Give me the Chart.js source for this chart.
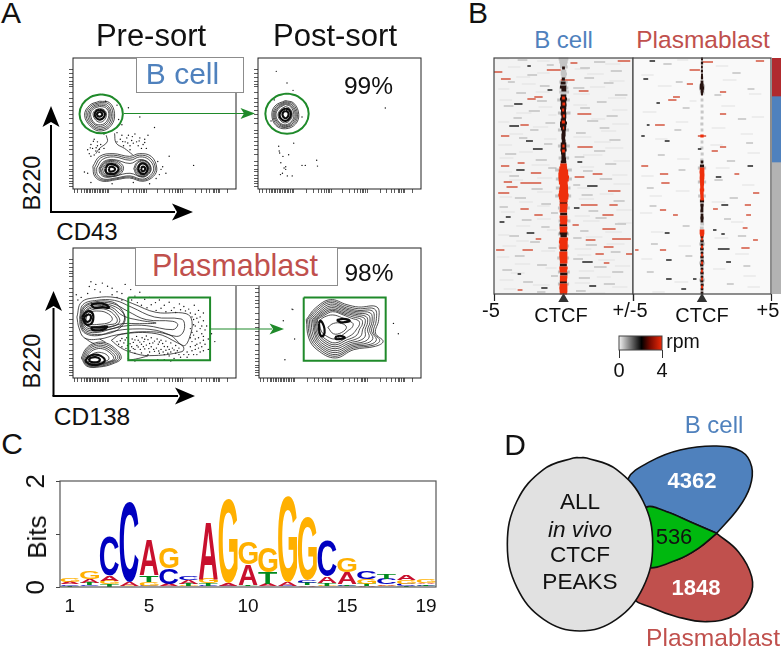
<!DOCTYPE html>
<html>
<head>
<meta charset="utf-8">
<title>CTCF sort panels</title>
<script src="https://cdn.jsdelivr.net/npm/chart.js@4"></script>
<style>
  html, body { margin: 0; padding: 0; background: #fff; }
  #page { position: relative; width: 781px; height: 649px; overflow: hidden; background: #fff; }
  #page canvas { position: absolute; }
  .lab { position: absolute; transform: translate(-50%, -50%); white-space: nowrap; line-height: 1; font-family: "Liberation Sans", Arial, sans-serif; color: #111; }
  .tag { position: absolute; background: #fff; border: 1px solid #8c8c8c; box-sizing: border-box; }
  svg { position: absolute; left: 0; top: 0; }
</style>
</head>
<body>
<div id="page"></div>
<script>
// ---------- Panel A data: flow contours, % of axis range, [x,y,x,y,...] ----------
const flowTicksX = [1,3,5,7,8,9,10,11,12,13,14,15,16,17,18,19,20,21,22,30,34,37,39,41,42,43,44,45,52,56,59,61,63,64,65,66,67,75,79,82,84,86,87,88,89,90,95];
const flowTicksY = [2,4,6,8,10,13,15,18,21,26,30,33,36,39,42,45,50,54,57,60,63,66,69,74,78,80,82,85,88,91];

const bPreRings = [
  [16.3,67, 22.4,65.9, 25.5,57.5, 23.5,48.6, 17.3,44.3, 11.2,47.3, 7.1,56.2, 10.2,63.9],
  [16.3,66, 21.8,65, 24.5,57.5, 22.8,49.3, 17.2,45.4, 11.6,48.2, 8,56.3, 10.8,63.2],
  [16.3,65, 21,64, 23.5,57.5, 22,50, 17,46.5, 12,49, 9,56.5, 11.5,62.5],
  [16.3,64, 20.5,63, 22.7,57.5, 21.2,50.8, 17,47.8, 12.6,49.8, 9.9,56.6, 12,61.8],
  [16.3,63, 20,62, 22,57.5, 20.5,51.5, 17,49, 13,50.5, 10.8,56.8, 12.5,61],
  [16.3,61.5, 19,60.5, 20.5,57.5, 19.5,53, 16.8,51, 14,52.5, 12.3,57, 13.5,60],
  [12.2,17.3, 16.3,24.9, 24.5,27, 34.7,24.9, 40.8,27, 48,24.9, 51.4,16, 49.4,9.7, 42.9,5.9, 34.7,8.4, 26.5,7.1, 18.4,5.9, 13.3,9.7],
  [13.3,16.5, 17,23.8, 24.8,25.8, 34.8,23.5, 40.9,25.8, 47.2,23.7, 50.5,16, 48.4,10, 42.7,6.7, 34.8,9.2, 26.5,7.8, 18.7,6.7, 14.1,10.3],
  [14.5,16, 18,22.5, 25,24.5, 35,22, 41,24.5, 46.5,22.5, 49.5,16, 47.5,10.5, 42.5,7.5, 35,10, 26.5,8.5, 19,7.5, 15,11],
  [16,16, 19,21, 25,22.5, 35,19.5, 41,22.5, 45.5,20.5, 48,15.5, 46,11, 42.5,9, 35,12, 26,10, 20,9, 16.5,12],
  [16.5,15.5, 19.2,20.2, 24,21.8, 29,20, 31,15.5, 28,10.6, 22,9.5, 18,11],
  [17,15.5, 19.5,19.5, 23,21, 28,19.5, 30,15, 27,11, 22,10, 18.5,11.5],
  [18,15.5, 20,19, 23,20, 27.3,18.8, 29,15, 26.5,11.5, 22.3,10.8, 19.2,12],
  [19,15.5, 20.5,18.5, 23,19, 26.5,18, 28,15, 26,12, 22.5,11.5, 20,12.5],
  [37.3,15.5, 39,20, 43,22, 46.5,20, 47.6,15, 46,11, 42.5,9.5, 39,11],
  [38,15.5, 39.5,19.5, 43,21.5, 46,19.5, 47,15, 45.5,11.5, 42.5,10, 39.5,11.5],
  [39,15.5, 40.5,19, 43,20.5, 45.5,18.8, 46.2,15, 45,12, 42.5,10.8, 40,12.2],
  [39.5,15.5, 41,18.5, 43,19.5, 45,18, 45.5,15, 44.5,12.5, 42.5,11.5, 40.5,13]
];
const bPreCores = [
  [16.3,60.5, 18.5,59.5, 19.6,57.5, 18.8,54.5, 16.6,53, 14.5,54, 13.3,57, 14.3,59.5],
  [16,59, 17.5,58.3, 18,57, 17.3,55.6, 16,55.3, 15,56, 14.8,57.5],
  [20,15.5, 21.5,18.5, 24,19, 27,17.5, 28,15, 26,12, 22.5,11.5, 20.5,12.5],
  [22,15.5, 23,17, 25,16.5, 25.8,15, 24.5,13.5, 22.5,13.5],
  [40,15.5, 41,18.5, 43,19.5, 45.2,18, 45.8,15, 44.5,12, 42.5,11.5, 40.8,13],
  [41.8,15.5, 42.6,17, 43.8,16.7, 44.3,15, 43.3,13.6, 42.2,14]
];
const bPreNecks = [
  [25.5,42.5, 26.5,35, 31.6,31, 36.7,26],
  [20.4,41, 21,36, 16.3,31, 14,27]
];
const bPreDots = [
  19,42, 13,38, 15,36, 11,34, 17,34, 12,31, 14,29, 10,27, 16,28, 9,30, 19,31, 13,26, 11,25, 15,33, 12.5,36.5, 14.2,31.5, 10.6,31.4, 16.2,30.4,
  27,43, 30,41, 33,39, 36,37, 38,42, 41,39, 44,38, 46,41, 29,38, 32,36, 35,33, 37,35, 40,33, 43,34, 45,31, 31,33, 27,36, 34,41, 39,36, 42,31, 30.5,36.2, 33.6,35.1, 36.4,40, 40.6,36.7, 44,35.5,
  52,21, 54,15, 53,11, 55,17, 51,8, 57,12, 9,12, 7,13, 11,5, 24,4, 37,5, 47,4,
  59,25, 74,18, 50,47, 41,55, 34,62, 28,53, 30,49, 35,30, 24,70, 20,67, 27,64
];
const bPreGate = [17.3,72.1, 19,71.9, 23.95,70.1, 28.8,64.7, 30.6,57.3, 28.8,49.9, 23.95,44.5, 17.3,42.5, 10.65,44.5, 5.8,49.9, 4,57.3, 5.8,64.7, 10.65,70.1, 15.6,71.9];

const bPostRings = [
  [16.8,67.5, 22,65.5, 25,57, 23,49.5, 17,46, 11,48.5, 8.5,56.5, 10.5,63.5],
  [16.8,66.7, 21.5,64.8, 24.2,57, 22.4,50.2, 17,47, 11.5,49.2, 9.2,56.5, 11.2,63],
  [16.8,66, 21,64, 23.5,57, 21.8,50.8, 17,47.5, 12,50, 9.8,56.5, 11.8,62.5],
  [16.8,65.2, 20.5,63.4, 22.8,57, 21.3,51.4, 17,48.3, 12.5,50.5, 10.4,56.5, 12.3,62],
  [16.8,64.5, 20,62.8, 22,57, 20.8,52, 17,49, 13,51, 11,56.5, 12.8,61.5],
  [16.8,63, 19.5,61.5, 21,57, 20,53, 17,50.5, 14,52, 12.3,56.5, 13.8,60.5]
];
const bPostCores = [
  [16.8,61.5, 19.2,60.3, 20.2,57, 19.3,53.8, 17,52, 14.4,53.2, 13.2,56.5, 14.4,59.8],
  [16.8,59.7, 18.3,58.8, 18.8,57, 18.2,55, 17,54, 15.6,55, 15,57, 15.5,58.6]
];
const bPostDots = [
  11.2,89.8, 17.8,80.9, 21.5,75.3, 78.1,61.8, 12.7,32.6, 21.9,35, 13.3,27.5, 15.3,24.9, 18.8,26.2,
  14,20, 16,16, 17,15, 15,12, 13.8,11, 18,10, 21,10, 17,17, 27,18, 29,18, 36,22, 36.5,17.5, 13,29, 10,68, 27,55, 24,44, 8,52
];
const bPostGate = [17.8,72.8, 19.5,72.6, 24.45,70.75, 29.3,65.15, 31.1,57.5, 29.3,49.85, 24.45,44.25, 17.8,42.2, 11.15,44.25, 6.3,49.85, 4.5,57.5, 6.3,65.15, 11.15,70.75, 16.1,72.6];

const pPreRings = [
  [2.4,46.9, 5.1,58.2, 14.3,61.8, 26.5,61.8, 36.7,57.2, 51,50.5, 69.4,49.5, 73,43.6, 71.4,30.8, 67.8,24.9, 59.2,33.1, 42.9,35.6, 26.5,33.1, 16.3,30, 7.1,30.8, 3.7,38.5],
  [4.1,46.9, 6.1,56.4, 14.3,59.7, 25.5,59.7, 35.7,54.6, 50,46.9, 66.3,45.4, 68.4,41.8, 67.3,34.6, 63.3,32, 51,36.7, 36.7,37.7, 24.5,35.9, 15.3,32.6, 7.8,34.1, 4.7,39.2],
  [4.6,47, 6.5,55, 14,58.7, 24,58.5, 29,54, 32,46, 30,40, 24,35, 15,33.5, 8,35, 5.2,40],
  [5.1,46.9, 7.1,54.6, 14.3,57.7, 24.5,57.2, 33.7,51.3, 44.9,44.9, 61.2,43.6, 64.3,41, 61.2,37.2, 44.9,40.3, 33.7,40.3, 23.5,37.7, 15.3,35.1, 8.6,35.9, 5.7,40.3],
  [5.6,46.9, 7.8,53.8, 14.8,56.6, 24,55.8, 31,49.5, 31,43, 27,39, 15.2,36.4, 8.9,37, 6,41],
  [6.1,46.9, 8.6,53, 15.3,55.6, 23.5,54.6, 30.6,47.9, 40.8,44.4, 51,42.3, 40.8,41.8, 30.6,41.8, 23.5,39.7, 15.3,37.7, 9.2,38.2, 6.5,41.8],
  [6.8,47, 8.5,52, 15,54.5, 22.5,53.5, 27.5,48, 28.5,43, 24,39.5, 15.5,38.5, 9.5,39.5, 7,43],
  [7.1,46.9, 9.2,51, 15.3,53.3, 22,51.8, 26.9,45.9, 26.5,42.3, 22,41, 15.3,39.7, 9.8,39.7, 7.6,42.8],
  [8.2,46.9, 10.2,50.5, 15.9,51.5, 20.8,50, 24.1,45.9, 22.4,42.8, 15.9,41.3, 10.2,41.3, 8.2,43.3],
  [5.1,15.4, 7.8,22.3, 12.2,26.4, 18.8,27.4, 25.5,23.1, 29.6,15.4, 24.5,11, 16.3,8.5, 8.6,9],
  [5.8,15.2, 8.4,21.7, 12.6,25.5, 18.7,26.3, 24.8,22.3, 28.6,15.4, 23.8,11.5, 16.2,9.1, 8.8,9.6],
  [6.5,15, 9,21, 13,24.5, 18.5,25, 24,21.5, 27.5,15.5, 23,12, 16,9.8, 9,10.2],
  [7.2,14.8, 9.5,20, 13.2,23.2, 18.2,23.8, 23.2,20.5, 26.2,15.2, 22.2,12.2, 15.8,10.4, 9.5,10.8],
  [8,14.5, 10,19, 13.5,22, 18,22.5, 22.5,19.5, 25,15, 21.5,12.5, 15.5,11, 10,11.5],
  [9.5,14.3, 11,17.5, 14,19.5, 17.5,19.5, 21,17.5, 22,14.5, 19.5,12.8, 15,12, 11,12.5],
  [23.5,29, 29.6,33.6, 51,34.1, 64.3,26.9, 67.8,23.8, 66.9,20.3, 46.9,17.2, 35.7,19.7, 28.6,23.8]
];
const pPreCores = [
  [5.7,46.9, 7.8,50.5, 11,51, 12.5,47, 11,41.5, 7.8,41.5],
  [6.7,46.5, 8.6,48.5, 10.5,48.5, 11,46, 9.8,43.5, 8,43.5],
  [11,56.5, 15,57.5, 20,56.5, 22,54, 18,54.5, 13,54],
  [11,39, 16,39, 21,39.5, 18,37, 12,37],
  [7.5,13, 9.5,16.5, 13,18, 17,17, 19.5,13.5, 16,10.5, 10.5,10.5],
  [9.5,13.5, 11,15.5, 14,16, 16.5,14.5, 15.5,12.5, 11.5,12.2]
];
const pPreNecks = [
  [7.1,30.8, 11,27.5, 13,26.5],
  [16.3,30, 18.5,28.5, 20,27.5],
  [33.9,13.6, 40,15, 46,17]
];
const pPreDots = [
  11,74, 14,72, 10,70.4, 13.4,68, 16.7,66.2, 9,65, 18,73, 21.2,70.6, 24,69, 27,66.3, 30,65, 32,72, 35.4,68, 38,63, 41,66, 44,60.6, 47,62, 50.6,58, 53,60, 56,56, 59,58.3, 62,54, 65.3,57, 68,55, 71,53, 74.4,56, 77,52,
  36,60, 39.5,58, 42,56, 45.4,54, 48,56.3, 51,52, 54,53.7, 57,51, 60.4,52, 63,50.4, 66,52.5, 69,51.6, 72,50, 75,49, 78,47, 80,50, 74,45, 77,43, 79,40, 75,40, 72,38, 76,36, 79,34, 74,33, 77,31, 80,29, 73,28, 76,26, 79,24, 75,22, 72,24, 78,20, 74,18, 70,20, 70,16, 66,16, 62,15,
  73,47, 76,46, 80,44, 81,37, 74,41, 78,38, 73,35, 80,32, 75,30, 78,27, 72,31, 75,25, 73,21, 77,23, 81,26, 80,21, 71,18, 68,18, 65,18, 76,18,
  27,28, 30,30.4, 33,31, 36.3,30, 39,32, 42.4,31, 45,32.3, 48,31, 51.6,30, 54,29, 57,28.4, 60,27, 63,25, 65,23,
  28,26, 31.2,27, 34,28, 37,27.4, 40,29, 43.5,28, 46,29.5, 49,27, 52.3,26, 55,26.5, 58,24, 61,23, 64,21,
  30,24, 33.4,25, 36,24, 39.2,25, 42,26, 45,25.3, 48,24, 51.2,23, 54,22, 57,21.4, 60,20, 63,19,
  35,21, 38,22, 41.3,22, 44,22.4, 47,20, 50,20.5, 53,19, 56,18, 59,17, 38,19, 42,19.3, 46,18,
  29,28.6, 32,29.2, 35,26.3, 38,29.3, 41,27.6, 44,29.8, 47,26.5, 50,28.4, 53,27.7, 56,24.2, 59,22, 62,21.6, 32.5,22.8, 37,22.6, 40,23.9, 43.2,24.1, 46.5,22.6, 49.5,22, 52.6,20.8, 55.3,20, 58.2,19,
  2,64, 5,62, 3,60, 24,64, 27,62, 30,60, 34,15, 38,13, 52,14, 56,14, 60,13, 82,40, 83,30, 83,22, 85,34, 87,28
];
const pPreGate = [33.9,62, 84.1,62, 84.1,13.6, 33.9,13.6];

const pPostRings = [
  [29.2,44.9, 34.8,53.8, 44,60.3, 54.3,56.4, 61.5,54.6, 72.8,54.6, 73.9,44.9, 71.9,34.6, 76.6,28.2, 71.9,24.4, 58.5,21.8, 47.1,15.4, 35.8,21.8, 30.7,30.8],
  [30,45, 35.4,52.9, 44,59.2, 54.2,55.2, 61.2,53.3, 71.4,53, 72.4,44.5, 70.7,35.3, 74.5,28.8, 70.5,25.2, 58.2,22.9, 47,16.7, 36.4,22.9, 31.6,31.4],
  [31,45, 36,52, 44,58, 54,54, 61,52, 70,51.5, 71,44, 69.5,36, 72.5,29.5, 69,26, 58,24, 47,18, 37,24, 32.5,32],
  [32,45, 36.8,51.2, 44.2,56.8, 53.8,53, 60.5,51, 68.8,50, 69.8,43.5, 68.3,36.5, 70.3,30.5, 67,27, 57.5,25, 47,19.5, 37.5,25, 33.5,32.5],
  [33,45, 37.5,50.5, 44.5,55.5, 53.5,52, 60,50, 67.5,48.5, 68.5,43, 67,37, 68,31.5, 65,28, 57,26, 47,21, 38,26, 34.5,33],
  [33.8,45, 38.2,50, 44.8,54.2, 53.2,51, 59.5,49, 66.2,47.2, 67,42.5, 65.5,37.2, 65.5,32, 62.5,29, 56,27, 47,22.5, 38.7,27, 35.2,33.5],
  [34.5,45, 39,49.5, 45,53, 53,50, 59,48, 65,46, 65.5,42, 64,37.5, 63,32.5, 60,30, 55,28, 47,24, 39.5,28, 36,34],
  [35.2,45, 39.5,48.8, 45.2,52, 52.5,49.2, 58,47, 63.2,45, 63.8,41.5, 62.2,37.8, 60.5,33.2, 57,30.5, 54.5,29.5, 47,25.5, 40.2,29, 36.8,34.5],
  [36,45, 40,48, 45.5,51, 52,48.5, 57,46, 61.5,44, 62,41, 60.5,38, 58,34, 54,31, 47,27, 41,30, 37.5,35],
  [37,44, 40.5,47, 45.5,48.5, 51,46.5, 55,44, 58,42, 57.5,39, 55,36.5, 52,33.5, 47,30, 42,32, 38.5,36],
  [42.5,39, 46,42, 51,42, 54,39, 51,35, 46,34]
];
const pPostCores = [
  [37,42, 38,44, 40,40, 40.5,35, 39,32, 37.5,34],
  [48,44.5, 52,45.5, 56,44, 53,43, 50,43],
  [47,31.5, 50,32.5, 53,31, 50,30, 47.5,30]
];
const pPostDots = [20.4,53, 20.9,52.6, 15,44, 22,30, 16,14, 83,42, 86,34];
const pPostGate = [27.6,62, 78.2,62, 78.2,13.3, 27.6,13.3];

// ---------- Panel B data: heatmap streaks, [row, x start, x end], x in kb ----------
const heatRows = 236;
const heatTicks = [-5, 5];
const leftTickNames = ['-5', '+/-5'];
const rightTickNames = ['', '+5'];
const peakClassNames = ['shared', 'B cell', 'other'];
const peakClassRows = [38, 66, 132];

const leftRed = [
  [5,.5,1],[12,-1.2,-.2],[21,-4.5,-3.8],[14,-5,-4.4],[22,-.2,.8],[3,3.9,4.8],[33,1.1,1.8],[39,-2.1,-1.5],[41,-2.6,-2],[56,1,2],
  [67,-3.1,-2.5],[78,-4.5,-3.9],[89,1,2.1],[108,-4.5,-3.9],[105,-3.3,-2.8],[115,-2.35,-1.6],[116,2.1,2.8],[124,-4.3,-3.7],[125,-3.1,-1.6],
  [129,-4.1,-3.3],[135,-4.7,-3.9],[133,3.2,4.1],[119,.8,1.5],[147,1.25,2.45],[147,3.3,3.9],[151,-3.1,-2.5],[157,-2.1,-1.5],[157,2.8,3.6],
  [167,.65,1.1],[171,2.8,3.75],[181,-2,-1.6],[182,1.6,2.3],[181,3.5,4.85],[189,2.9,3.6],[192,-4.85,-4.25],[192,-2.95,-2.2],[196,2.3,2.9],
  [196,4.5,4.95],[205,2.9,3.3],[232,-3.3,-2.95]
];
const leftDark = [
  [46,-3.55,-2.95],[68,-3.9,-3.2],[83,-2.7,-2.2],[91,-2.2,-1.5],[112,-3.4,-2.8],[32,-1.15,-.8],[8,-2.6,-2.35],[128,1.7,2.45],[104,1,1.35],
  [159,-4.15,-3.8],[164,-4.6,-4.25],[175,-2.65,-2.1],[204,1.35,2.1],[216,-3.3,-3.05],[230,-1.6,-1.15],[228,1.85,2.35],[150,.75,1.15]
];
const leftGrey = [
  [2,-3.3,-2.6],[4,2.2,3],[7,-1.2,-.7],[10,1.2,1.9],[13,3.4,4.2],[17,-2.6,-1.9],[20,1.5,2.2],[24,-4,-3.5],[25,2.9,3.6],[28,-1.7,-1],[30,.7,1.5],
  [35,-3.4,-2.7],[37,3.7,4.6],[43,-1.9,-1.2],[44,2.4,3.1],[48,-4.3,-3.6],[50,1.2,1.9],[53,-2.5,-1.7],[58,3.1,3.9],[60,-3.6,-3],[63,1.7,2.5],
  [65,-1.3,-.6],[70,2.6,3.3],[72,-2.4,-1.8],[75,.9,1.6],[80,-3.2,-2.6],[82,3.3,4.1],[86,-1.4,-.8],[93,2.2,3],[96,-4.2,-3.4],[99,.8,1.5],
  [102,-2,-1.2],[106,3,3.8],[110,-1.1,-.5],[113,1.4,2.1],[118,-3.9,-3.2],[121,2.6,3.5],[127,.7,1.2],[131,-2.3,-1.5],[137,1.3,2.1],[140,-3.5,-2.7],
  [143,3.6,4.4],[146,-1.6,-.9],[149,-4.6,-4],[153,1.8,2.5],[155,-.9,-.4],[160,2.3,3.1],[162,-3,-2.3],[166,3.7,4.5],[169,-1.6,-1],[173,1.2,1.8],
  [178,-3.9,-3.2],[180,.7,1.3],[184,-2.4,-1.7],[187,1.6,2.4],[190,-1.1,-.5],[194,3.4,4.1],[198,-3.5,-2.8],[201,.7,1.4],[207,-1.9,-1.2],[209,2.2,3.1],
  [212,-4.4,-3.7],[214,3.5,4.3],[218,-.9,-.4],[220,1.1,1.9],[224,-2.9,-2.2],[226,2.9,3.7],[233,.9,1.6],[234,-1.9,-1.3]
];
const leftPale = [
  [1,-4.8,-3.9],[3,-1.9,-1],[6,3,4.1],[9,-4,-3.1],[11,.8,1.8],[15,-1.9,-1],[16,1.7,2.9],[19,-3.4,-2.4],[23,3.3,4.4],[26,-3,-2],[29,1.9,3],[31,-4.7,-3.9],
  [34,-2,-1],[36,.7,1.9],[40,3.2,4.5],[42,-4.6,-3.7],[47,.7,1.7],[49,-1.8,-.8],[52,3.5,4.6],[55,-3.4,-2.3],[57,-1.1,-.5],[61,2,3],[64,-4.7,-3.9],[66,3.5,4.7],
  [69,-2.2,-1.1],[73,2.7,3.8],[76,-3.9,-2.9],[79,.7,2],[81,-1.4,-.5],[84,2.2,3.4],[87,-4.7,-3.7],[90,3,4.3],[94,-3.2,-2.2],[97,1.4,2.8],[100,-4.6,-3.6],[103,3.6,4.8],
  [107,-2.3,-1],[109,1.2,2.2],[114,-4.7,-3.7],[117,3.5,4.6],[120,-1.9,-.8],[122,-3.9,-2.9],[126,3.6,4.8],[130,1,1.9],[134,-1.9,-.8],[136,2.6,3.6],[139,-4.6,-3.7],
  [141,1.1,2.2],[144,-3.2,-2.2],[148,-1.9,-1],[152,3.8,4.9],[154,-4.5,-3.5],[158,.8,1.9],[161,-1.9,-.9],[163,1.4,2.6],[165,3.9,4.9],[168,-3.4,-2.4],[172,-1.2,-.5],
  [174,3,4.2],[177,-4.7,-3.9],[179,1.6,2.8],[183,-3.4,-2.5],[186,3.1,4.4],[188,-4.4,-3.4],[191,.8,2],[193,-1.6,-.6],[197,1,2],[199,-4.8,-3.9],[202,2.5,3.7],
  [206,-3.5,-2.4],[208,3.7,4.8],[210,-1.3,-.5],[213,1.1,2.2],[215,-3.8,-2.8],[219,2.4,3.4],[222,-4.6,-3.6],[225,.8,1.9],[227,-2.2,-1],[229,3.5,4.6],[231,-4.3,-3.4],[235,1.9,3]
];
const leftBandGrey = [
  [1,-.35,.35],[4,-.3,.3],[6,-.25,.25],[9,-.25,.3],[13,-.2,.2],[16,-.2,.25],[19,-.15,.2],[24,-.3,.3],[27,-.25,.25],[30,-.3,.35],[34,-.3,.4],[36,-.2,.2],
  [42,-.45,.45],[55,-.4,.5],[72,-.4,.4],[88,-.4,.45],[100,-.35,.4],[112,-.6,.6],[121,-.55,.6],[130,-.55,.5],[138,-.6,.55],[150,-.4,.45],[163,-.35,.5],[176,-.4,.4],[188,-.35,.4],[200,-.45,.4],[214,-.4,.45],[226,-.4,.4]
];
const leftBandDark = [
  [10,-.1,.1],[21,-.12,.1],[25,-.2,.15],[29,-.25,.2],[32,-.15,.2],
  [38,-.2,.2],[41,-.25,.25],[44,-.2,.2],[47,-.2,.22],[50,-.25,.2],[53,-.18,.18],[56,-.2,.2],[59,-.15,.2],[62,-.2,.18],[65,-.25,.25],[68,-.25,.2],[71,-.18,.18],
  [74,-.12,.15],[77,-.15,.15],[80,-.15,.12],[83,-.12,.15],[86,-.2,.2],[89,-.2,.2],[92,-.22,.22],[95,-.18,.15],[98,-.15,.15],[101,-.15,.18],[104,-.2,.2],
  [145,-.26,.26],[156,-.24,.26],[167,-.28,.26],[175,-.28,.28],[178,-.22,.24],[192,-.24,.26],[207,-.26,.24],[216,-.24,.28],[224,-.26,.24]
];
const leftBandRed = [
  [40,-.1,.1],[46,-.08,.12],[52,-.1,.05],[58,-.05,.1],[64,-.12,.1],[70,-.05,.05],[88,-.08,.08],[93,-.1,.1],
  [107,-.24,.24],[110,-.3,.26],[113,-.34,.33],[116,-.37,.34],[119,-.37,.4],[122,-.35,.37],[125,-.33,.3],[128,-.26,.32],[131,-.3,.33],[134,-.33,.33],[137,-.37,.37],[140,-.33,.35],
  [143,-.28,.3],[147,-.28,.3],[150,-.26,.28],[153,-.28,.26],[159,-.28,.28],[162,-.26,.28],[165,-.24,.26],[170,-.28,.28],[173,-.26,.26],[181,-.3,.33],[184,-.33,.3],[187,-.28,.3],
  [190,-.3,.3],[195,-.3,.28],[198,-.3,.28],[201,-.28,.28],[204,-.26,.28],[210,-.3,.3],[213,-.28,.26],[219,-.26,.28],[222,-.26,.26],[227,-.28,.28],[230,-.3,.28],[233,-.28,.28],[235,-.26,.26]
];

const rightRed = [
  [4,.05,.8],[12,-.9,-.15],[3,3.9,4.5],[26,-1.1,-.65],[34,1.3,1.75],[39,-2.1,-1.6],[42,-2.45,-1.85],[56,1.3,1.75],[67,-3.4,-2.7],[78,-.3,.3],[89,1.3,1.75],[93,.7,1.15],
  [108,-4.4,-3.9],[116,-3.05,-2.45],[116,2.35,2.7],[125,-2.95,-2.35],[135,3.7,4.15],[152,-3.05,-2.6],[157,-2.1,-1.75],[151,.8,1.15],[147,3.1,3.55],[157,3.2,3.55],
  [170,2.95,3.3],[182,3.7,4.05],[190,2.85,3.45],[192,-3.05,-2.6],[192,-4.85,-4.6]
];
const rightDark = [
  [3,-3.8,-3.4],[21,-4.25,-3.9],[45,-3.3,-3.05],[67,-4,-3.8],[83,-2.7,-2.35],[78,-4.4,-4.15],[91,-.3,-.05],[108,3.3,3.7],[119,1,1.4],[147,1.4,1.9],[175,-2.7,-2.35],
  [176,1.4,1.65],[191,1.15,2],[202,-2.6,-2.2],[204,1.75,2.1],[221,-2.6,-2.2],[221,-.65,-.4],[231,-1.5,-1.15],[172,.8,1.05]
];
const rightGrey = [
  [6,-2.8,-2.2],[15,2.2,2.8],[24,-1.9,-1.4],[31,3.3,3.8],[37,.9,1.4],[50,-1.4,-.9],[61,2.6,3.2],[72,-2,-1.5],[85,3.2,3.7],[97,-3.2,-2.7],[103,1.8,2.4],[112,-1.7,-1.2],
  [122,.9,1.5],[130,-4,-3.5],[140,2,2.6],[148,-3.8,-3.3],[161,1.6,2.1],[168,-1.4,-.9],[178,2.6,3.2],[186,-3.7,-3.2],[198,-1.2,-.7],[208,3,3.5],[214,-4,-3.5],[226,1.8,2.3]
];
const rightPale = [
  [2,-1.8,-1],[8,1,1.9],[17,-4.4,-3.5],[22,1.5,2.5],[28,-3.2,-2.2],[36,3.4,4.3],[43,-.9,-.4],[48,1.4,2.4],[54,-4.3,-3.3],[59,3.6,4.5],[64,-1.9,-1],[70,.7,1.7],[76,2.8,3.7],
  [81,-3.4,-2.5],[87,.6,1.5],[95,3.3,4.2],[101,-1.8,-.9],[110,1,2],[118,-4.4,-3.5],[127,2.9,3.8],[133,-1.9,-.9],[138,-3.8,-2.9],[144,.7,1.7],[155,-4.5,-3.6],[164,2.1,3],
  [174,-3.7,-2.8],[180,.9,1.9],[188,-1.7,-.8],[196,2.4,3.4],[201,-4.4,-3.6],[211,.8,1.7],[218,3,3.9],[224,-2,-1],[229,3.3,4.2],[234,-3.6,-2.7]
];
const rightBandGrey = [
  [28,-.22,.22],[31,-.2,.2],[35,-.15,.18],[42,-.1,.1],[48,-.1,.1],[54,-.1,.12],[60,-.1,.1],[66,-.12,.1],[72,-.1,.1],[84,-.1,.1],[90,-.12,.1],[96,-.1,.12],[102,-.12,.1],
  [110,-.3,.3],[124,-.3,.3],[138,-.28,.28],[166,-.12,.15],[170,-.15,.12],[186,-.2,.2],[205,-.2,.2],[222,-.2,.2]
];
const rightBandDark = [
  [1,-.07,.07],[5,-.08,.08],[9,-.07,.06],[13,-.08,.07],[17,-.07,.07],[20,-.08,.08],[24,-.1,.1],[27,-.15,.12],[30,-.16,.15],[33,-.1,.12],[36,-.07,.07],
  [104,-.1,.1],[108,-.15,.15],[143,-.15,.15],[147,-.12,.12],[150,-.1,.1],[153,-.12,.1],[157,-.1,.1],[160,-.12,.12],[163,-.1,.1],[179,-.1,.1],[183,-.12,.12],[187,-.1,.1],
  [191,-.13,.12],[195,-.1,.1],[199,-.12,.12],[203,-.1,.12],[207,-.13,.1],[211,-.1,.1],[215,-.12,.12],[219,-.1,.1],[223,-.12,.1],[227,-.1,.12],[231,-.1,.1],[235,-.1,.1]
];
const rightBandRed = [
  [78,-.12,.12],[111,-.16,.17],[114,-.18,.17],[117,-.16,.18],[120,-.17,.17],[123,-.16,.15],[126,-.14,.15],[129,-.13,.13],[132,-.16,.16],[135,-.14,.12],[138,-.12,.12],[141,-.12,.14],
  [173,-.17,.17],[175,-.17,.17],[177,-.14,.14],[181,-.06,.06],[189,-.07,.07],[197,-.06,.06],[205,-.06,.07],[213,-.07,.06],[221,-.06,.06],[229,-.07,.07]
];
const rpmValues = [0, 2.1, 2.9, 4];
const rpmColours = ['#f2f2f2', '#000000', '#7a0a00', '#ee2a08'];
const rpmTicks = [0, 4];

// ---------- Panel C data: motif, stacks bottom to top, height in bits ----------
const logoPositions = ['1','2','3','4','5','6','7','8','9','10','11','12','13','14','15','16','17','18','19'];
const logoShownTicks = ['1','5','10','15','19'];
const logoLetters1 = 'TCTTCTGCTCCTAGCAGTC';
const logoHeights1 = [.02,.03,.06,.01,.02,.01,.02,.02,.01,.01,.01,.01,.03,.02,.02,.02,.02,.02,.02];
const logoLetters2 = 'CTGGGATTCTACTTTTACT';
const logoHeights2 = [.03,.04,.06,.01,.08,.05,.04,.05,.01,.02,.05,.01,.05,.05,.03,.04,.03,.04,.03];
const logoLetters3 = 'AAAATCAGAATACAAGCGA';
const logoHeights3 = [.04,.08,.09,.08,.125,.29,.07,.09,.05,.39,.21,.07,.05,.125,.225,.09,.11,.075,.02];
const logoLetters4 = 'GGCCAGCAGGGGGCGCTAG';
const logoHeights4 = [.07,.14,.74,1.52,.67,.39,.075,1.08,1.6,.42,.47,1.61,1.19,.66,.27,.157,.09,.1,.06];
const logoColours = { A: '#c8102e', C: '#0000c0', G: '#ffb000', T: '#008a1e' };

// ---------- Panel D data: Venn outlines, [x,y,x,y,...] ----------
const vennBlue = [680,340, 745,265, 780,200, 785,140, 755,95, 680,78, 570,90, 480,125, 415,175, 440,215, 470,262, 530,275, 600,305, 680,340];
const vennRed = [680,340, 745,395, 785,470, 780,530, 735,585, 650,605, 560,590, 490,565, 430,530, 470,440, 560,420, 625,385, 680,340];
const vennGreen = [680,340, 625,385, 560,420, 470,440, 460,350, 470,262, 530,275, 600,305, 680,340];
const vennGrey = [270,113, 290,114, 379,148, 459,243, 488,373, 459,503, 379,598, 270,633, 161,598, 81,503, 52,373, 81,243, 161,148, 250,114, 270,113];

// ---------- Helpers ----------
const FONT = '"Liberation Sans", Arial, sans-serif';
const GATE = '#1f8a2a';
Chart.defaults.font.family = FONT;
Chart.defaults.color = '#111';
Chart.defaults.animation = false;
Chart.defaults.responsive = false;
Chart.defaults.layout.autoPadding = false;
Chart.defaults.plugins.legend.display = false;
Chart.defaults.plugins.tooltip.enabled = false;

const page = document.getElementById('page');

function addCanvas(left, top, w, h, blur){
  const c = document.createElement('canvas');
  c.width = w; c.height = h;
  c.style.left = left + 'px'; c.style.top = top + 'px';
  c.style.width = w + 'px'; c.style.height = h + 'px';
  if(blur) c.style.filter = 'blur(' + blur + 'px)';
  page.appendChild(c);
  return c;
}
function pairs(flat){
  const out = [];
  for(let i = 0; i < flat.length; i += 2) out.push({ x: flat[i], y: flat[i+1] });
  return out;
}
function closed(flat){ return pairs(flat.concat(flat.slice(0,2))); }
function segs(list){
  return list.flatMap(([r,a,b]) => [{x:a,y:r},{x:b,y:r},{x:NaN,y:NaN}]);
}
function lineSet(data, color, width, tension){
  return { data, showLine: true, borderColor: color, borderWidth: width, tension: tension || 0, pointRadius: 0, fill: false, clip: false };
}
function noOverhang(s){
  s.paddingTop = 0; s.paddingBottom = 0; s.paddingLeft = 0; s.paddingRight = 0;
}
function framePlugin(color, width){
  return {
    id: 'frame',
    afterDatasetsDraw(chart){
      const a = chart.chartArea, ctx = chart.ctx;
      ctx.save();
      ctx.strokeStyle = color;
      ctx.lineWidth = width || 1;
      ctx.strokeRect(a.left, a.top, a.right - a.left, a.bottom - a.top);
      ctx.restore();
    }
  };
}
function backdropPlugin(color){
  return {
    id: 'backdrop',
    beforeDatasetsDraw(chart){
      const a = chart.chartArea, ctx = chart.ctx;
      ctx.save();
      ctx.fillStyle = color;
      ctx.fillRect(a.left, a.top, a.right - a.left, a.bottom - a.top);
      ctx.restore();
    }
  };
}
function label(text, cx, cy, size, color, extra){
  const d = document.createElement('div');
  d.className = 'lab';
  d.textContent = text;
  d.style.left = cx + 'px'; d.style.top = cy + 'px';
  d.style.fontSize = size + 'px';
  if(color) d.style.color = color;
  if(extra) Object.assign(d.style, extra);
  page.appendChild(d);
  return d;
}

// ---------- Panel A ----------
function flowChart(left, top, w, h, rings, cores, necks, dots, gate, gateTension){
  // bottom-most dataset first, reversed below because Chart.js paints index 0 last
  const sets = [{ data: pairs(dots), showLine: false, pointRadius: .7, pointBorderWidth: 0, pointBackgroundColor: '#111', clip: false }];
  rings.forEach(r => sets.push(lineSet(closed(r), '#222', .8, .4)));
  necks.forEach(r => sets.push(lineSet(pairs(r), '#222', .8, .4)));
  cores.forEach(r => sets.push(lineSet(closed(r), '#0c0c0c', 2.2, .4)));
  sets.push(lineSet(closed(gate), GATE, 2, gateTension));
  new Chart(addCanvas(left - 6, top - 1, w + 8, h + 7, .3), {
    type: 'scatter',
    data: { datasets: sets.reverse() },
    options: {
      layout: { padding: { top: 1, right: 2 } },
      scales: {
        x: {
          min: 0, max: 100, border: { display: false },
          grid: { drawOnChartArea: false, tickLength: 4, tickColor: '#333', tickWidth: .8 },
          ticks: { display: false },
          afterBuildTicks: s => { s.ticks = flowTicksX.map(v => ({ value: v })); },
          afterFit: s => { s.height = 6; }
        },
        y: {
          min: 0, max: 100, border: { display: false },
          grid: { drawOnChartArea: false, tickLength: 4, tickColor: '#333', tickWidth: .8 },
          ticks: { display: false },
          afterBuildTicks: s => { s.ticks = flowTicksY.map(v => ({ value: v })); },
          afterFit: s => { s.width = 6; }
        }
      }
    },
    plugins: [framePlugin('#222')]
  });
}
flowChart(73, 58, 163, 131, bPreRings, bPreCores, bPreNecks, bPreDots, bPreGate, .4);
flowChart(258, 58, 163, 131, bPostRings, bPostCores, [], bPostDots, bPostGate, .4);
flowChart(73, 248, 163, 130, pPreRings, pPreCores, pPreNecks, pPreDots, pPreGate, 0);
flowChart(259, 248, 162, 130, pPostRings, pPostCores, [], pPostDots, pPostGate, 0);

// ---------- Panel B ----------
function heatChart(left, w, names, bg, lists){
  const sets = [
    lineSet(segs(lists.pale), '#e2e2e2', 1.2),
    lineSet(segs(lists.grey), '#c2c2c2', 1.3),
    lineSet(segs(lists.bandGrey), 'rgba(150,150,150,.5)', 3),
    lineSet(segs(lists.dark), '#222', 1.3),
    lineSet(segs(lists.red), '#d4553f', 1.3),
    lineSet(segs(lists.bandDark), '#26120f', 3),
    lineSet(segs(lists.bandRed), '#ee2f0c', 3),
    { data: [{ x: 0, y: heatRows + 5 }], showLine: false, pointStyle: 'triangle', pointRadius: 6, pointBorderWidth: 0, pointBackgroundColor: '#333', clip: false }
  ];
  new Chart(addCanvas(left - 30, 56, w + 60, 270, .35), {
    type: 'scatter',
    data: { datasets: sets.reverse() },
    options: {
      layout: { padding: { left: 30, right: 30, top: 2 } },
      scales: {
        x: {
          min: -5, max: 5, border: { display: false },
          grid: { drawOnChartArea: false, tickLength: 7, tickColor: '#222', tickWidth: 1.2 },
          ticks: { font: { size: 20 }, padding: -2, maxRotation: 0, labelOffset: -3, color: '#111', callback: (v) => names[heatTicks.indexOf(v)] },
          afterBuildTicks: s => { s.ticks = heatTicks.map(v => ({ value: v })); },
          afterFit: s => { s.height = 32; }
        },
        y: { display: false, min: 0, max: heatRows, reverse: true }
      }
    },
    plugins: [backdropPlugin(bg), framePlugin('#444', 1.2)]
  });
}
heatChart(494, 139, leftTickNames, '#f3f3f3', { pale: leftPale, grey: leftGrey, dark: leftDark, red: leftRed, bandGrey: leftBandGrey, bandDark: leftBandDark, bandRed: leftBandRed });
heatChart(633, 138, rightTickNames, '#f9f9f9', { pale: rightPale, grey: rightGrey, dark: rightDark, red: rightRed, bandGrey: rightBandGrey, bandDark: rightBandDark, bandRed: rightBandRed });

// side bar of peak classes
const classColours = ['#b02a2e', '#4f81bd', '#b3b3b3'];
new Chart(addCanvas(772, 58, 9, 236), {
  type: 'bar',
  data: {
    labels: ['peaks'],
    datasets: peakClassRows.map((v, i) => ({ label: peakClassNames[i], data: [v], backgroundColor: classColours[i], barPercentage: 1, categoryPercentage: 1 }))
  },
  options: {
    scales: {
      x: { display: false, stacked: true },
      y: { display: false, stacked: true, min: 0, max: heatRows, reverse: true }
    }
  }
});

// rpm colour key
new Chart(addCanvas(600, 335, 81, 48), {
  type: 'bar',
  data: {
    labels: ['rpm'],
    datasets: [{
      data: [[rpmTicks[0], rpmTicks[1]]], barPercentage: 1, categoryPercentage: 1,
      backgroundColor: c => {
        const s = c.chart.scales.x;
        const a = s ? s.getPixelForValue(0) : NaN, b = s ? s.getPixelForValue(4) : NaN;
        if(!isFinite(a) || !isFinite(b)) return '#888';
        const g = c.chart.ctx.createLinearGradient(a, 0, b, 0);
        rpmValues.forEach((v, i) => g.addColorStop(v / 4, rpmColours[i]));
        return g;
      }
    }]
  },
  options: {
    indexAxis: 'y',
    layout: { padding: { left: 19, right: 19, top: 1 } },
    scales: {
      x: {
        min: 0, max: 4, border: { display: false },
        grid: { drawOnChartArea: false, tickLength: 8, tickColor: '#333' },
        ticks: { font: { size: 20 }, padding: 1, color: '#111' },
        afterBuildTicks: s => { s.ticks = rpmTicks.map(v => ({ value: v })); },
        afterFit: s => { s.height = 33; }
      },
      y: { display: false }
    }
  },
  plugins: [framePlugin('#444')]
});

// ---------- Panel C ----------
const letterPlugin = {
  id: 'letters',
  afterDatasetsDraw(chart){
    const ctx = chart.ctx;
    chart.data.datasets.forEach((ds, di) => {
      chart.getDatasetMeta(di).data.forEach((bar, i) => {
        const b = bar.getProps(['x','y','base','width'], true);
        const ch = ds.letters[i];
        ctx.save();
        ctx.font = 'bold 100px ' + FONT;
        ctx.textBaseline = 'alphabetic';
        ctx.textAlign = 'left';
        const m = ctx.measureText(ch);
        const gw = m.actualBoundingBoxLeft + m.actualBoundingBoxRight;
        const gh = m.actualBoundingBoxAscent + m.actualBoundingBoxDescent;
        ctx.translate(b.x - b.width / 2, b.y);
        ctx.scale(b.width / gw, (b.base - b.y) / gh);
        ctx.fillStyle = logoColours[ch];
        ctx.fillText(ch, m.actualBoundingBoxLeft, m.actualBoundingBoxAscent);
        ctx.restore();
      });
    });
  }
};
new Chart(addCanvas(20, 470, 418, 157), {
  type: 'bar',
  data: {
    labels: logoPositions,
    datasets: [[logoLetters1, logoHeights1], [logoLetters2, logoHeights2], [logoLetters3, logoHeights3], [logoLetters4, logoHeights4]].map(([l, h]) => ({
      letters: l, data: h, backgroundColor: 'transparent', borderWidth: 0, barPercentage: .96, categoryPercentage: 1
    }))
  },
  options: {
    layout: { padding: { top: 11, right: 2 } },
    scales: {
      x: {
        stacked: true, border: { display: false },
        grid: { display: false },
        ticks: { autoSkip: false, maxRotation: 0, font: { size: 19 }, padding: 0, color: '#111',
          callback(v){ const t = this.getLabelForValue(v); return logoShownTicks.includes(t) ? t : ''; } },
        afterFit: s => { s.height = 40; noOverhang(s); }
      },
      y: {
        stacked: true, min: 0, max: 2, border: { display: false },
        grid: { drawOnChartArea: false, tickLength: 4, tickColor: '#444' },
        ticks: { stepSize: 1, font: { size: 26 }, padding: 19, minRotation: 90, maxRotation: 90, labelOffset: -7, color: '#111',
          callback: v => v === 1 ? '' : String(v) },
        afterFit: s => { s.width = 40; noOverhang(s); }
      }
    }
  },
  plugins: [letterPlugin, framePlugin('#555', 1.2)]
});

// ---------- Panel D ----------
function vennSet(flat, fill, tension){
  return { data: pairs(flat), showLine: true, borderColor: '#111', borderWidth: 1.6, backgroundColor: fill, fill: 'shape', tension, pointRadius: 0, clip: false };
}
new Chart(addCanvas(490, 420, 291, 229), {
  type: 'scatter',
  data: { datasets: [
    vennSet(vennBlue, '#4f81bd', .4),
    vennSet(vennRed, '#c0504d', .4),
    vennSet(vennGreen, '#00b80f', .35),
    vennSet(vennGrey, '#e1e1e1', .4)
  ].reverse() },
  options: {
    scales: {
      x: { display: false, min: 0, max: 873 },
      y: { display: false, min: 0, max: 687, reverse: true }
    }
  }
});

// ---------- Text ----------
const BLUE = '#4f81bd', RED = '#c0504d';
const boxB = document.createElement('div');
boxB.className = 'tag';
Object.assign(boxB.style, { left: '136px', top: '57px', width: '108px', height: '36px' });
page.appendChild(boxB);
const boxP = document.createElement('div');
boxP.className = 'tag';
Object.assign(boxP.style, { left: '135px', top: '247px', width: '203px', height: '39px' });
page.appendChild(boxP);

label('A', 11, 13, 30);
label('B', 478, 13, 30);
label('C', 12, 444, 30);
label('D', 515, 445, 30);
label('Pre-sort', 151, 35, 31);
label('Post-sort', 335, 35, 31);
label('B cell', 182.5, 74, 30, BLUE);
label('Plasmablast', 235, 265, 30.5, RED);
label('99%', 368.5, 86, 24.5);
label('98%', 369, 273, 24.5);
label('B220', 33, 183, 23.5, null, { transform: 'translate(-50%,-50%) rotate(-90deg)' });
label('B220', 33, 361, 23.5, null, { transform: 'translate(-50%,-50%) rotate(-90deg)' });
label('CD43', 87, 232, 24);
label('CD138', 92, 417, 24.5);
label('B cell', 563.5, 40, 24, BLUE);
label('Plasmablast', 703, 40, 24.5, RED);
label('CTCF', 561, 315, 20);
label('CTCF', 702, 315, 20);
label('rpm', 683, 342, 19.5);
label('Bits', 37, 537, 26, null, { transform: 'translate(-50%,-50%) rotate(-90deg)' });
label('ALL', 580, 502, 22.6);
label('in vivo', 580, 530, 22.6, null, { fontStyle: 'italic' });
label('CTCF', 580, 555, 22.6);
label('PEAKS', 580, 582, 22.6);
label('4362', 692, 481, 22, '#fff', { fontWeight: 'bold' });
label('1848', 696, 588, 22, '#fff', { fontWeight: 'bold' });
label('536', 674, 537, 22, '#111');
label('B cell', 714, 425, 24, BLUE);
label('Plasmablast', 713, 638, 24.6, RED);

// axis and gate arrows
const NS = 'http://www.w3.org/2000/svg';
const svg = document.createElementNS(NS, 'svg');
svg.setAttribute('width', 781); svg.setAttribute('height', 649);
function arrowLine(x1, y1, x2, y2, color, w){
  const l = document.createElementNS(NS, 'line');
  l.setAttribute('x1', x1); l.setAttribute('y1', y1); l.setAttribute('x2', x2); l.setAttribute('y2', y2);
  l.setAttribute('stroke', color); l.setAttribute('stroke-width', w);
  svg.appendChild(l);
}
function arrowHead(points, color){
  const p = document.createElementNS(NS, 'polygon');
  p.setAttribute('points', points); p.setAttribute('fill', color);
  svg.appendChild(p);
}
arrowLine(51, 212, 51, 125, '#000', 2);
arrowLine(50, 212, 175, 212, '#000', 2);
arrowHead('51,106 42.5,127 51,122 59.5,127', '#000');
arrowHead('193,212 172,203.5 177,212 172,220.5', '#000');
arrowLine(53.5, 396, 53.5, 308, '#000', 2);
arrowLine(52.5, 396, 178, 396, '#000', 2);
arrowHead('53.5,291 45,311 53.5,306 62,311', '#000');
arrowHead('195,396 175,387.5 180,396 175,404.5', '#000');
arrowLine(124, 113.5, 244, 113.5, GATE, 1.2);
arrowHead('255,113.5 240.5,108 244,113.5 240.5,119', GATE);
arrowLine(211, 329, 272, 329, GATE, 1.2);
arrowHead('284,329 269.5,323.5 273,329 269.5,334.5', GATE);
page.appendChild(svg);
</script>
</body>
</html>
